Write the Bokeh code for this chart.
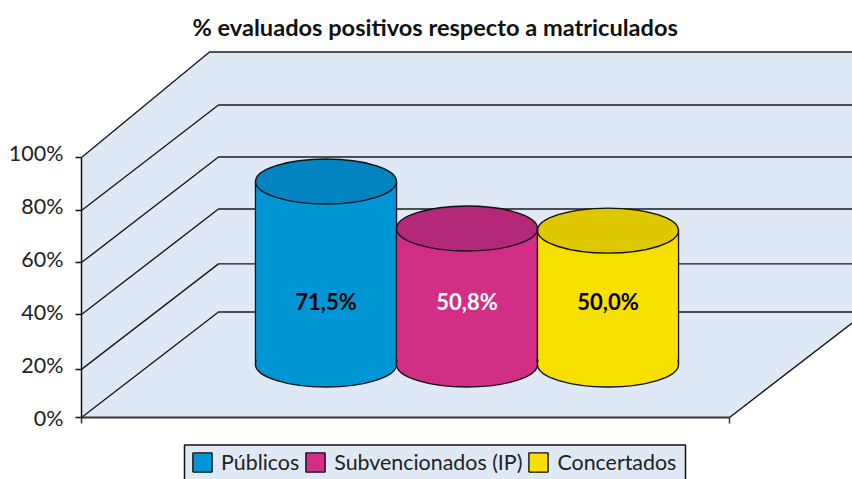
from bokeh.plotting import figure
from bokeh.models import Range1d, Legend, LegendItem
from bokeh.core.properties import value
from bokeh.embed import file_html
from bokeh.resources import INLINE

FONT = "Lato"
title = "% evaluados positivos respecto a matriculados"
categories = ["Públicos", "Subvencionados (IP)", "Concertados"]
values = [71.5, 50.8, 50.0]
# cylinder heights as drawn in the 3-D picture, in axis units
drawn_heights = [70.4, 52.3, 51.5]
body_colors = ["#0096d6", "#d22e85", "#f7e000"]
top_colors = ["#0284c0", "#b32878", "#dfc800"]
label_colors = ["#000000", "#ffffff", "#000000"]
tick_values = [0, 20, 40, 60, 80, 100]
tick_labels = ["0%", "20%", "40%", "60%", "80%", "100%"]
# the gridlines as read from the left wall
grid_levels = [0, 18.5, 39.6, 59.6, 79.6, 100]

PX = 2.6            # pixels per axis unit
depth_x = 137       # depth of the floor, horizontal
depth_y = 105.5 / PX
top_depth_x = 128
x0, x_end, floor_end = 81, 852, 729
bar_w = 141
bar_x0 = 255
base = (417 - 364) / PX
cap_h = 45 / PX
label_y = (417 - 301) / PX
tick_label_scale = 265 / 100 / PX   # labels are evenly spaced, gridlines are not
tick_len = 6
tick_len_y = tick_len / PX

p = figure(width=852, height=479, output_backend="svg", toolbar_location=None,
           x_range=Range1d(0, x_end), y_range=Range1d(-62 / PX, 372 / PX),
           min_border_left=0, min_border_right=0, min_border_top=45, min_border_bottom=0,
           frame_width=852, frame_height=434,
           x_axis_type=None, y_axis_type=None, outline_line_color=None,
           background_fill_color="#ffffff")
p.grid.visible = False

p.title.text = title
p.title.text_font = FONT
p.title.text_font_size = "23.6px"
p.title.text_font_style = "bold"
p.title.text_color = "#111111"
p.title.align = "left"
p.title.offset = 192
p.title.standoff = 10

# wall + floor
top = grid_levels[-1]
p.patch([x0, x0, x0 + top_depth_x, x_end + 40, x_end + 40, floor_end + depth_x, floor_end],
        [0, top, top + depth_y, top + depth_y, depth_y, depth_y, 0],
        fill_color="#dfe8f5", line_color=None)

# gridlines
xs, ys = [], []
for i, lv in enumerate(grid_levels):
    dx = top_depth_x if lv == top else depth_x
    xs.append([x0, x0 + dx, x_end + 40])
    ys.append([lv, lv + depth_y, lv + depth_y])
p.multi_line(xs, ys, line_color="#1a1a1a", line_width=1.4)
p.line([floor_end, floor_end + depth_x], [0, depth_y], line_color="#111111", line_width=1.4)

# axes
p.line([x0, x0], [0, top], line_color="#111111", line_width=1.5)
p.segment([x0 - tick_len] * len(grid_levels), grid_levels, [x0] * len(grid_levels), grid_levels,
          line_color="#111111", line_width=1.5)
p.line([x0, floor_end], [0, 0], line_color="#333333", line_width=2)
p.segment([x0, floor_end], [0, 0], [x0, floor_end], [-tick_len_y, -tick_len_y],
          line_color="#333333", line_width=1.5)
p.text([63] * len(tick_values), [v * tick_label_scale for v in tick_values], text=tick_labels,
       text_align="right", text_baseline="middle", text_font=value(FONT),
       text_font_size="21.5px", text_color="#222222")

# cylinders
renderers = []
for i, cat in enumerate(categories):
    left = bar_x0 + i * bar_w
    cx = left + bar_w / 2
    h = drawn_heights[i]
    # outlined body: its edges show at the sides, the end caps cover the rest
    r = p.quad(left=[left], right=[left + bar_w], bottom=[base], top=[base + h],
               fill_color=body_colors[i], line_color="#111111", line_width=1.4)
    renderers.append(r)
    p.ellipse([cx], [base], width=bar_w, height=cap_h, fill_color=body_colors[i], line_color="#111111", line_width=1.4)
    p.quad(left=[left + 1], right=[left + bar_w - 1], bottom=[base], top=[base + h],
           fill_color=body_colors[i], line_color=None)
    p.ellipse([cx], [base + h], width=bar_w, height=cap_h, fill_color=top_colors[i], line_color="#111111", line_width=1.4)
    p.text([cx], [label_y], text=[f"{values[i]:.1f}%".replace(".", ",")], text_align="center",
           text_baseline="middle", text_font=value(FONT), text_font_style="bold",
           text_font_size="22px", text_color=label_colors[i])

# legend frame, running off the bottom of the picture as in the reference
p.quad(left=[184], right=[685], top=[(417 - 444.5) / PX], bottom=[(417 - 495) / PX],
       fill_color="#dfe8f5", line_color="#111111", line_width=1.5)

legend = Legend(items=[LegendItem(label=c, renderers=[r]) for c, r in zip(categories, renderers)],
                orientation="horizontal", location=(190, 4),
                label_text_font=FONT, label_text_font_size="21.4px", label_text_color="#222222",
                background_fill_alpha=0, border_line_color=None,
                glyph_width=24, glyph_height=24, label_standoff=7, spacing=4,
                padding=6, margin=0)
p.add_layout(legend, "center")

open("out.html", "w").write(file_html(p, INLINE))
